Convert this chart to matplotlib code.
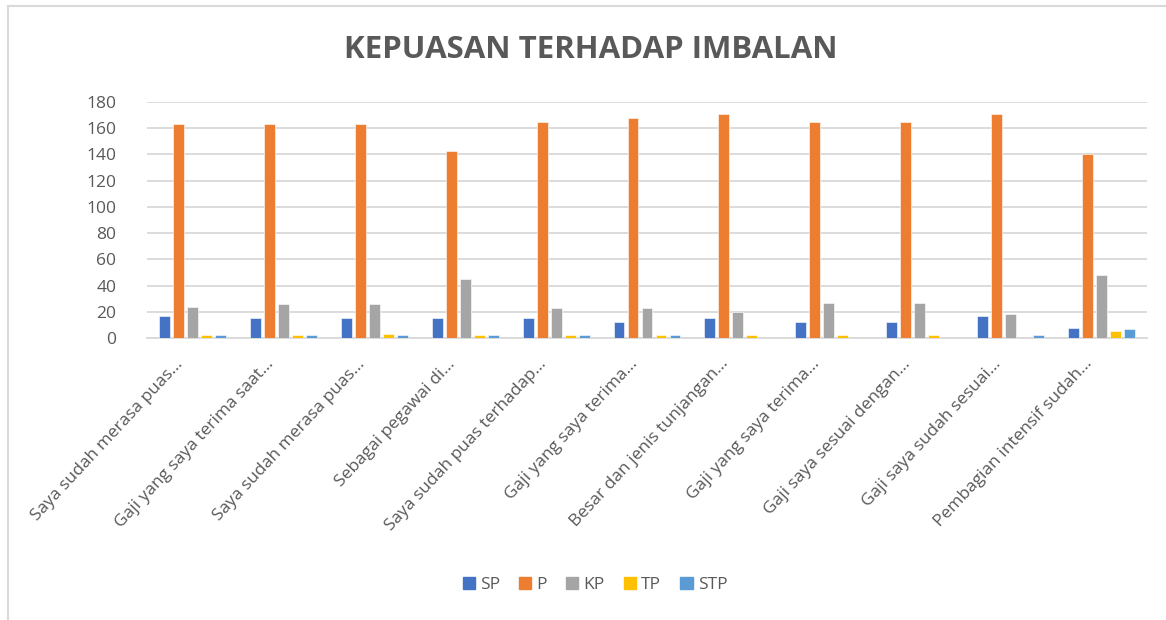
import matplotlib
matplotlib.use("Agg")
import matplotlib.pyplot as plt
import matplotlib.transforms as mtransforms
import numpy as np
from matplotlib.lines import Line2D

categories = [
    "Saya sudah merasa puas…",
    "Gaji yang saya terima saat…",
    "Saya sudah merasa puas…",
    "Sebagai pegawai di…",
    "Saya sudah puas terhadap…",
    "Gaji yang saya terima…",
    "Besar dan jenis tunjangan…",
    "Gaji yang saya terima…",
    "Gaji saya sesuai dengan…",
    "Gaji saya sudah sesuai…",
    "Pembagian intensif sudah…",
]
series_names = ["SP", "P", "KP", "TP", "STP"]
SP = [17, 15, 15, 15, 15, 12, 15, 12, 12, 17, 8]
P = [163, 163, 163, 143, 165, 168, 171, 165, 165, 171, 140]
KP = [24, 26, 26, 45, 23, 23, 20, 27, 27, 18, 48]
TP = [2, 2, 3, 2, 2, 2, 2, 2, 2, 0, 5]
STP = [2, 2, 2, 2, 2, 2, 0, 0, 0, 2, 7]
yticks = [0, 20, 40, 60, 80, 100, 120, 140, 160, 180]
title = "KEPUASAN TERHADAP IMBALAN"

colors = ["#4472C4", "#ED7D31", "#A5A5A5", "#FFC000", "#5B9BD5"]
text_color = "#595959"
font = ["Open Sans", "DejaVu Sans"]

W, H = 1166, 620
fig = plt.figure(figsize=(W / 100, H / 100), dpi=100)
fig.patch.set_facecolor("white")

ax = fig.add_axes([147 / W, 1 - 338 / H, 1000 / W, 236 / H])
x = np.arange(len(categories))
data = [SP, P, KP, TP, STP]
pitch = 0.154
bw = 0.12
for i, (vals, c) in enumerate(zip(data, colors)):
    ax.bar(x + (i - 2) * pitch, vals, width=bw, color=c, edgecolor="white",
           linewidth=0.4, zorder=3, label=series_names[i])

ax.set_xlim(-0.5, len(categories) - 0.5)
ax.set_ylim(0, 180)
ax.set_yticks(yticks)
ax.set_yticklabels([str(v) for v in yticks], fontsize=12.5, color=text_color, family=font)
ax.yaxis.grid(True, color="#D9D9D9", linewidth=1.3, zorder=0)
ax.set_axisbelow(True)
for s in ["top", "right", "left"]:
    ax.spines[s].set_visible(False)
ax.spines["bottom"].set_color("#D9D9D9")
ax.spines["bottom"].set_linewidth(1.3)
ax.tick_params(axis="both", length=0)
ax.tick_params(axis="y", pad=22)
ax.set_xticks(x)
ax.set_xticklabels(categories, rotation=47, ha="right", rotation_mode="anchor",
                   fontsize=12.5, color=text_color, family=font)
ax.tick_params(axis="x", pad=10)
offset = mtransforms.ScaledTranslation(-18 / 100, -4 / 100, fig.dpi_scale_trans)
for lbl in ax.get_xticklabels():
    lbl.set_transform(lbl.get_transform() + offset)

fig.text(591 / W, 1 - 50 / H, title, ha="center", va="center", fontsize=22.5,
         fontweight="bold", color=text_color, family=font)

handles = [plt.Rectangle((0, 0), 1, 1, color=c) for c in colors]
leg = fig.legend(handles, series_names, loc="center", bbox_to_anchor=(595 / W, 1 - 585 / H),
                 ncol=5, frameon=False, handlelength=0.7, handleheight=0.7,
                 handletextpad=0.3, columnspacing=1.1,
                 prop={"family": font, "size": 12.5})
for t in leg.get_texts():
    t.set_color(text_color)

# chart border (left and top visible)
fig.add_artist(Line2D([8 / W, 8 / W], [0, 1 - 6 / H], transform=fig.transFigure,
                      color="#D9D9D9", linewidth=1.5))
fig.add_artist(Line2D([8 / W, 1], [1 - 6 / H, 1 - 6 / H], transform=fig.transFigure,
                      color="#D9D9D9", linewidth=1.5))

fig.savefig("out.png", dpi=100, facecolor="white")
